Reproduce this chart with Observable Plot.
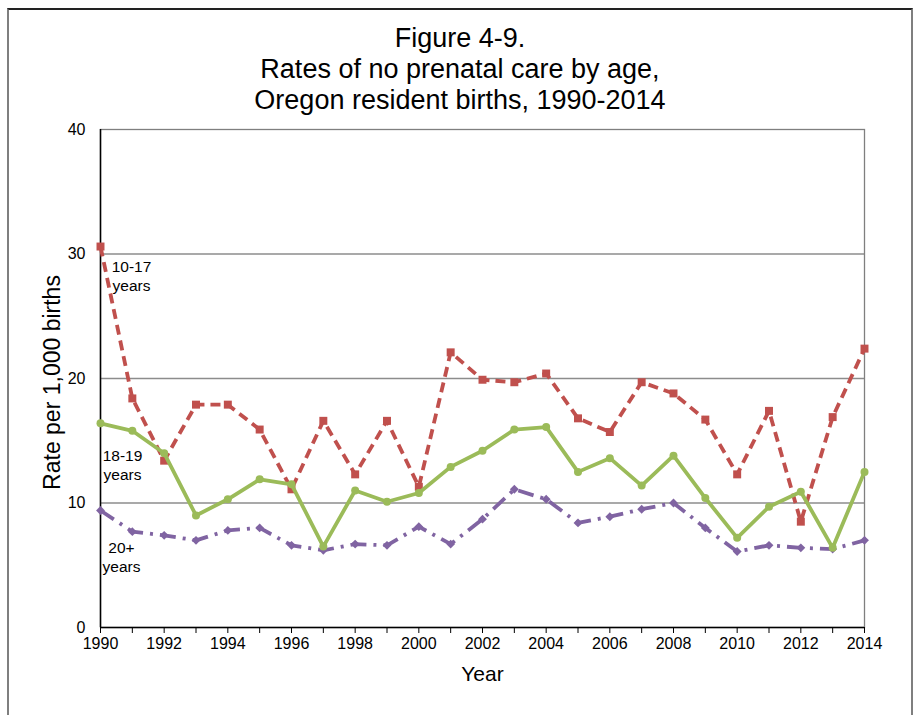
<!DOCTYPE html>
<html>
<head>
<meta charset="utf-8">
<script src="https://cdn.jsdelivr.net/npm/d3@7"></script>
<script src="https://cdn.jsdelivr.net/npm/@observablehq/plot@0.6"></script>
<style>
  html, body { margin: 0; padding: 0; background: #fff; }
  body { width: 920px; height: 715px; position: relative; overflow: hidden; font-family: "Liberation Sans", Arial, sans-serif; }
  #frame { position: absolute; left: 7px; top: 8px; width: 906px; height: 730px; border-top: 2px solid #222; border-left: 2px solid #7f7f7f; border-right: 2px solid #7f7f7f; box-sizing: border-box; }
  #title { position: absolute; left: 0; top: 23px; width: 920px; text-align: center; font-size: 27px; line-height: 31px; color: #000; }
  #chart { position: absolute; left: 0; top: 115px; }
</style>
</head>
<body>
<div id="frame"></div>
<div id="title">Figure 4-9.<br>Rates of no prenatal care by age,<br>Oregon resident births, 1990-2014</div>
<div id="chart"></div>
<script>
const years = [1990, 1991, 1992, 1993, 1994, 1995, 1996, 1997, 1998, 1999, 2000, 2001, 2002,
               2003, 2004, 2005, 2006, 2007, 2008, 2009, 2010, 2011, 2012, 2013, 2014];
const rate10to17 = [30.6, 18.4, 13.4, 17.9, 17.9, 15.9, 11.1, 16.6, 12.3, 16.6, 11.3, 22.1, 19.9,
                    19.7, 20.4, 16.8, 15.7, 19.7, 18.8, 16.7, 12.3, 17.4, 8.5, 16.9, 22.4];
const rate18to19 = [16.4, 15.8, 14.0, 9.0, 10.3, 11.9, 11.5, 6.5, 11.0, 10.1, 10.8, 12.9, 14.2,
                    15.9, 16.1, 12.5, 13.6, 11.4, 13.8, 10.4, 7.2, 9.7, 10.9, 6.4, 12.5];
const rate20plus = [9.4, 7.7, 7.4, 7.0, 7.8, 8.0, 6.6, 6.2, 6.7, 6.6, 8.1, 6.7, 8.7,
                    11.1, 10.3, 8.4, 8.9, 9.5, 10.0, 8.0, 6.1, 6.6, 6.4, 6.3, 7.0];
const seriesNames = ["10-17\nyears", "18-19\nyears", "20+\nyears"];
const yTicks = [0, 10, 20, 30, 40];
const xLabelTicks = [1990, 1992, 1994, 1996, 1998, 2000, 2002, 2004, 2006, 2008, 2010, 2012, 2014];
const xTitle = "Year";
const yTitle = "Rate per 1,000 births";

const colors = ["#C0504D", "#9BBB59", "#8064A2"];
const toRows = (vals, s) => years.map((y, i) => ({year: y, rate: vals[i], series: s}));
const d1 = toRows(rate10to17, seriesNames[0]);
const d2 = toRows(rate18to19, seriesNames[1]);
const d3s = toRows(rate20plus, seriesNames[2]);

const chart = Plot.plot({
  width: 920,
  height: 600,
  marginTop: 14,
  marginBottom: 88,
  marginLeft: 100,
  marginRight: 56,
  style: {fontFamily: "Liberation Sans, Arial, sans-serif", fontSize: "16px", color: "#000", background: "transparent", overflow: "visible"},
  x: {domain: [1990, 2014]},
  y: {domain: [0, 40]},
  marks: [
    Plot.gridY(yTicks.filter(d => d > 0 && d < 40), {stroke: "#8c8c8c", strokeOpacity: 1, strokeWidth: 1.3}),
    Plot.frame({stroke: "#7f7f7f", strokeWidth: 1.3}),
    Plot.ruleX([1990], {stroke: "#000", strokeWidth: 1.5}),
    Plot.ruleY([0], {stroke: "#000", strokeWidth: 1.5}),
    Plot.axisY({ticks: yTicks, tickSize: 0, tickPadding: 15, fontSize: 16, label: null}),
    Plot.axisX({ticks: years, tickSize: 6, tickPadding: 4, tickFormat: d => xLabelTicks.includes(d) ? String(d) : "",
      fontSize: 16, label: null}),
    Plot.text([xTitle], {frameAnchor: "bottom", dy: 53, fontSize: 21}),
    Plot.text([yTitle], {frameAnchor: "left", dx: -48, dy: 4, rotate: -90, textAnchor: "middle", fontSize: 23}),
    Plot.line(d3s, {x: "year", y: "rate", stroke: colors[2], strokeWidth: 3.8, strokeDasharray: "16,7,3,7", strokeLinecap: "butt"}),
    Plot.dot(d3s, {x: "year", y: "rate", symbol: "diamond2", r: 4, fill: colors[2], stroke: "none"}),
    Plot.line(d1, {x: "year", y: "rate", stroke: colors[0], strokeWidth: 3.8, strokeDasharray: "10,6", strokeLinecap: "butt"}),
    Plot.dot(d1, {x: "year", y: "rate", symbol: "square", r: 4.5, fill: colors[0], stroke: "none"}),
    Plot.line(d2, {x: "year", y: "rate", stroke: colors[1], strokeWidth: 3.8}),
    Plot.dot(d2, {x: "year", y: "rate", symbol: "circle", r: 4, fill: colors[1], stroke: "none"}),
    Plot.text([d1[0]], {x: "year", y: "rate", text: "series", dx: 31, dy: 29, fontSize: 15.5, lineHeight: 1.2, textAnchor: "middle", fill: "#000"}),
    Plot.text([d2[0]], {x: "year", y: "rate", text: "series", dx: 22, dy: 41, fontSize: 15.5, lineHeight: 1.2, textAnchor: "middle", fill: "#000"}),
    Plot.text([d3s[0]], {x: "year", y: "rate", text: "series", dx: 21, dy: 46, fontSize: 15.5, lineHeight: 1.2, textAnchor: "middle", fill: "#000"})
  ]
});
document.getElementById("chart").appendChild(chart);
</script>
</body>
</html>
